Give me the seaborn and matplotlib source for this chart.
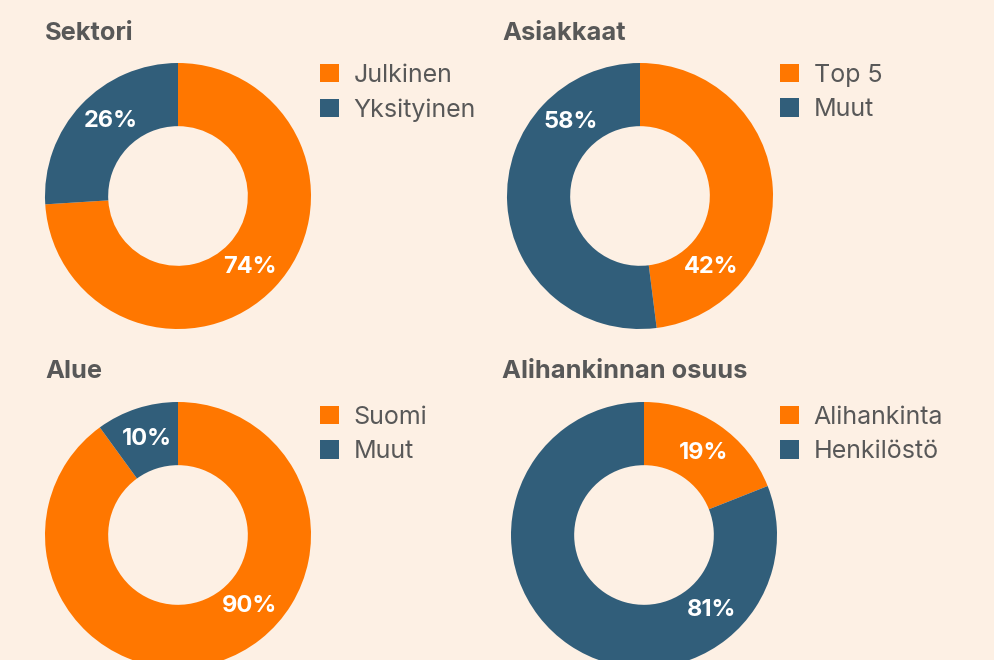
import numpy as np
import matplotlib
matplotlib.use("Agg")
import matplotlib.pyplot as plt
import seaborn as sns

# data
titles = ["Sektori", "Asiakkaat", "Alue", "Alihankinnan osuus"]
categories = [["Julkinen", "Yksityinen"],
              ["Top 5", "Muut"],
              ["Suomi", "Muut"],
              ["Alihankinta", "Henkilöstö"]]
# slice sizes as drawn in the picture
shares = [[74, 26],
          [48, 52],
          [90, 10],
          [19, 81]]
# printed labels
pct_labels = [["74%", "26%"],
              ["42%", "58%"],
              ["90%", "10%"],
              ["19%", "81%"]]
# label directions (degrees clockwise from 12 o'clock)
label_angles = [[135, 318], [135, 317], [135, 342], [36, 138]]

bg = "#FDF0E4"
colors = ["#FF7700", "#315E7A"]
text_gray = "#585858"

sns.set_theme(style="white", rc={"figure.facecolor": bg, "axes.facecolor": bg})
plt.rcParams["font.family"] = ["Inter", "DejaVu Sans"]

W, H = 994, 660
fig = plt.figure(figsize=(W / 100, H / 100), dpi=100)

# donut centres in pixels (x, y from top), radius
centres = [(178, 196), (640, 196), (178, 535), (644, 535)]
R = 133
title_pos = [(45, 33), (502, 33), (45, 372), (502, 372)]
legend_pos = [(320, 64), (780, 64), (320, 406), (780, 406)]

palette = sns.color_palette(colors)

for i in range(4):
    cx, cy = centres[i]
    ax = fig.add_axes([(cx - R) / W, (H - cy - R) / H, 2 * R / W, 2 * R / H])
    wedges, _ = ax.pie(shares[i], colors=palette, startangle=90, counterclock=False,
                       radius=1, wedgeprops=dict(width=0.475, linewidth=0))
    ax.set_xlim(-1, 1)
    ax.set_ylim(-1, 1)
    ax.set_axis_off()
    for lab, ang in zip(pct_labels[i], label_angles[i]):
        a = np.deg2rad(ang)
        ax.text(0.76 * np.sin(a), 0.76 * np.cos(a), lab, ha="center", va="center",
                color="white", fontsize=17, fontweight="bold")

    tx, ty = title_pos[i]
    fig.text(tx / W, 1 - ty / H, titles[i], ha="left", va="center",
             fontsize=18.3, fontweight="bold", color=text_gray)

    lx, ly = legend_pos[i]
    leg = fig.legend(wedges, categories[i], loc="upper left",
                     bbox_to_anchor=(lx / W, 1 - ly / H), frameon=False,
                     prop=dict(size=18), handlelength=0.75, handleheight=0.75,
                     handletextpad=0.6, labelspacing=0.45, borderpad=0, borderaxespad=0)
    for t in leg.get_texts():
        t.set_color(text_gray)

fig.savefig("out.png", dpi=100, facecolor=bg)
